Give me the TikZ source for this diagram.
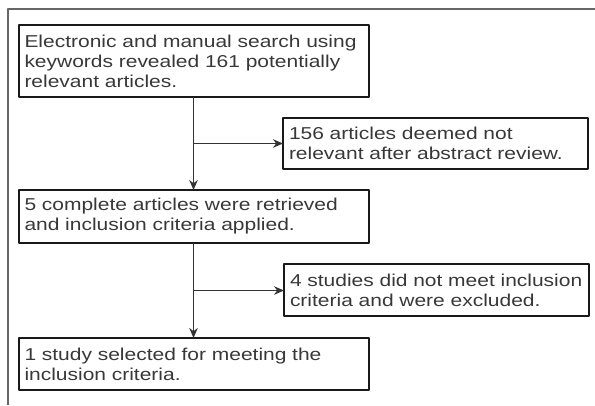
\documentclass[tikz,border=0pt]{standalone}
\usepackage{fontspec}
\setmainfont{Liberation Sans}[FakeStretch=1.22]
\usetikzlibrary{arrows.meta,calc}

\begin{document}
\begin{tikzpicture}[x=1bp, y=-1bp, >={Stealth[length=10bp,width=8.5bp]}, line join=round,
	font=\fontsize{17.2bp}{20bp}\selectfont,
	box/.style={draw=black!90, line width=2bp, text=black!78, anchor=north west, align=left,
		inner xsep=6bp, inner ysep=0pt, outer sep=0pt},
	link/.style={draw=black!80, line width=1.1bp}]
	\def \wide{350} \def \narrow{305}
	\useasboundingbox (0,0) rectangle (595,405);
	
	% frame
	\draw[black!60, line width=2bp] (8,405) -- (8,9) -- (595,9);
	
	\node[box, text width=\wide bp-12bp, minimum width=\wide bp, minimum height=72bp] (search) at (18.5,25)
		{Electronic and manual search using\\ keywords revealed 161 potentially\\ relevant articles.};
	\node[box, text width=\narrow bp-12bp, minimum width=\narrow bp, minimum height=51bp] (notrel) at (283,118)
		{156 articles deemed not\\ relevant after abstract review.};
	\node[box, text width=\wide bp-12bp, minimum width=\wide bp, minimum height=53bp] (retrieved) at (18.5,190)
		{5 complete articles were retrieved\\ and inclusion criteria applied.};
	\node[box, text width=\narrow bp-12bp, minimum width=\narrow bp, minimum height=52bp] (excluded) at (284,264)
		{4 studies did not meet inclusion\\ criteria and were excluded.};
	\node[box, text width=\wide bp-12bp, minimum width=\wide bp, minimum height=52bp] (selected) at (18.5,338)
		{1 study selected for meeting the\\ inclusion criteria.};
	
	\coordinate (fork1) at ($(search.south)!.5!(retrieved.north)$);
	\coordinate (fork2) at ($(retrieved.south)!.5!(selected.north)$);
	
	\draw[link,->] (search) -- (retrieved);
	\draw[link,->] (fork1) -- (fork1 -| notrel.west);
	\draw[link,->] (retrieved) -- (selected);
	\draw[link,->] (fork2) -- (fork2 -| excluded.west);
\end{tikzpicture}
\end{document}
